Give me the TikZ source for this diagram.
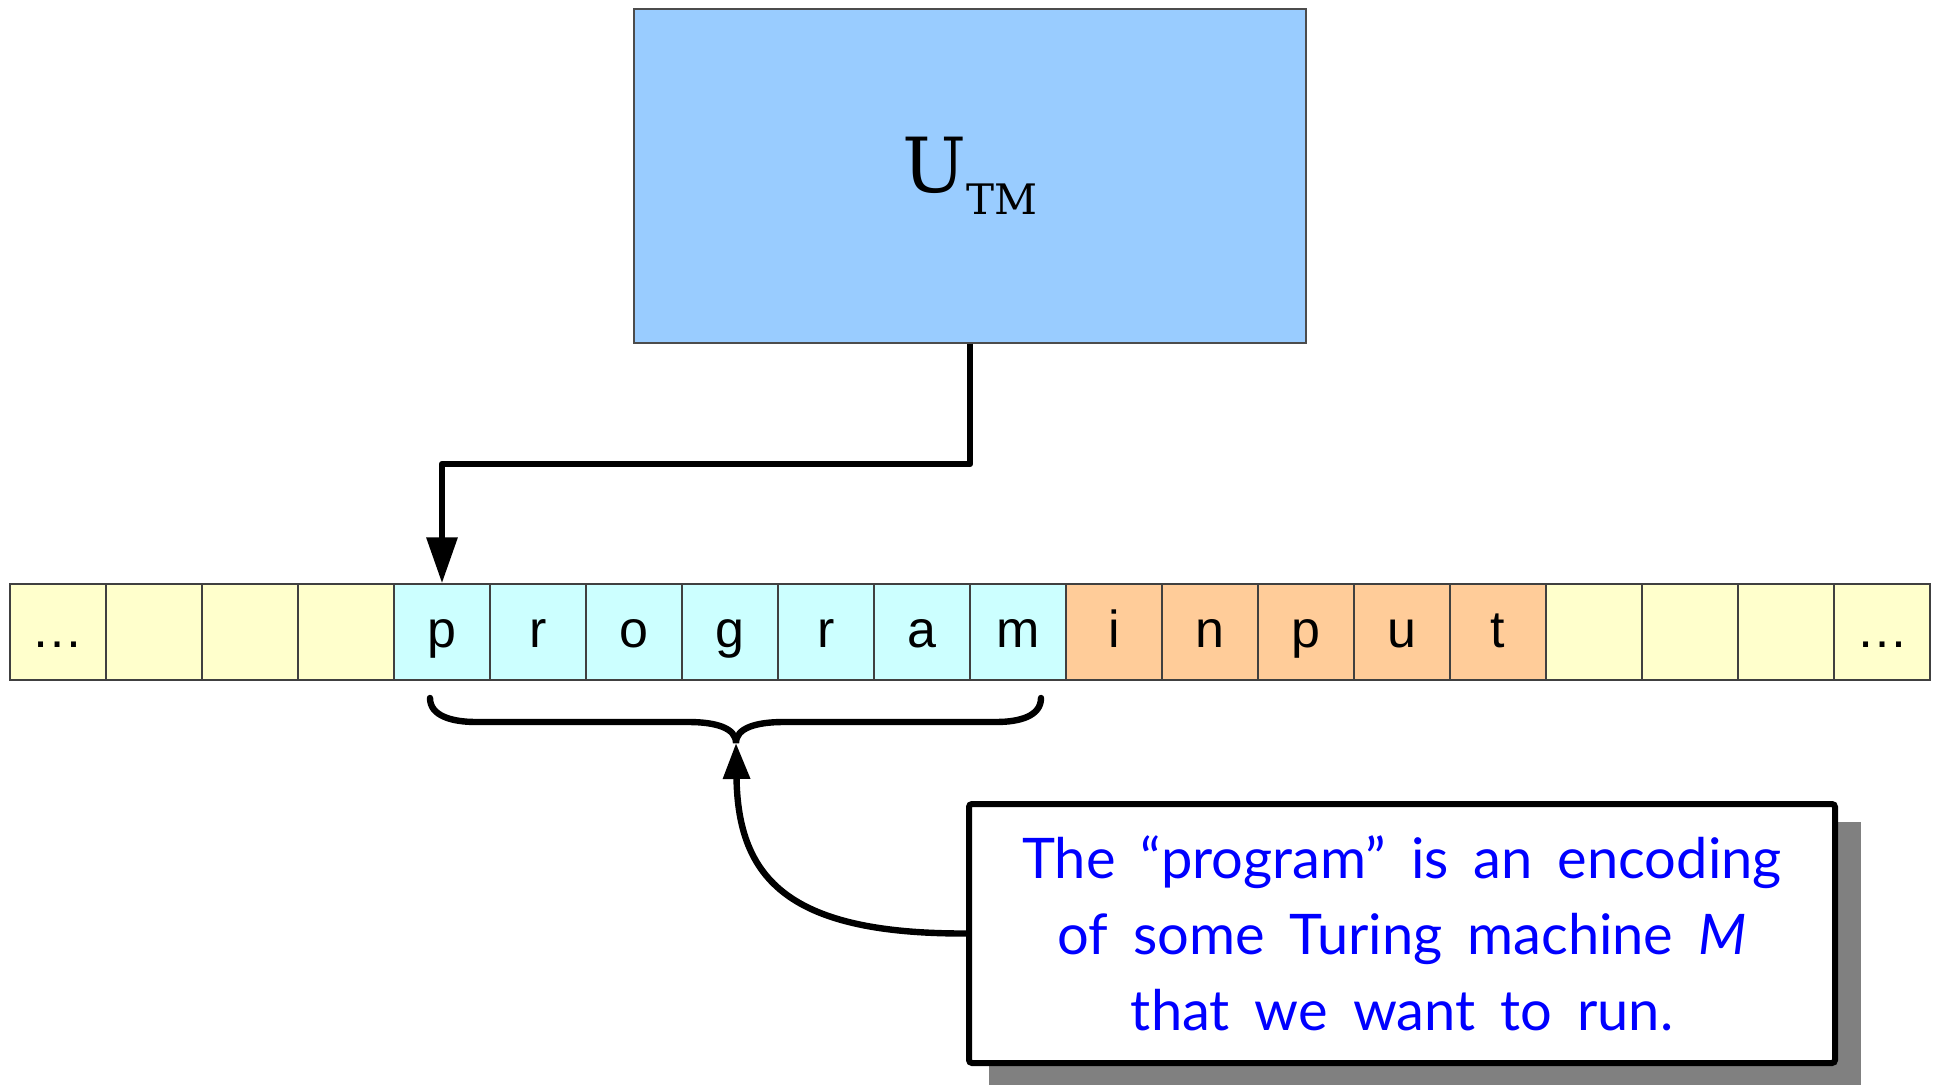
\documentclass[tikz,border=0pt]{standalone}
\usepackage{fontspec}
\setmainfont{Liberation Sans}
\newfontfamily\serifface{DejaVu Serif}
\newfontfamily\noteface{Lato}
\usetikzlibrary{arrows.meta}

\definecolor{blankcell}{HTML}{FFFFCC}
\definecolor{progcell}{HTML}{CCFFFF}
\definecolor{inputcell}{HTML}{FFCC99}
\definecolor{machine}{HTML}{99CCFF}
\definecolor{noteblue}{HTML}{0000FF}

\newcommand\widewords{\spaceskip=12.5pt plus 1pt\relax}

\begin{document}
\begin{tikzpicture}[x=0.5pt, y=-0.5pt,
    cell/.style={draw=black!75, line width=0.7pt, minimum width=48pt, minimum height=48pt,
      inner sep=0pt, text height=18pt, text depth=3pt, font=\fontsize{26}{26}\selectfont},
    link/.style={line width=3.2pt, line join=round},
  ]
  \useasboundingbox (0,0) rectangle (1939,1085);

  % the machine
  \node[draw=black!70, line width=0.6pt, fill=machine, minimum width=336pt, minimum height=167pt]
    (utm) at (970,176) {\serifface\fontsize{38}{38}\selectfont U\raisebox{-11pt}{\fontsize{21}{21}\selectfont TM}};

  % the tape
  \foreach \i/\sym/\col in {0/…/blankcell, 1//blankcell, 2//blankcell, 3//blankcell,
      4/p/progcell, 5/r/progcell, 6/o/progcell, 7/g/progcell, 8/r/progcell, 9/a/progcell, 10/m/progcell,
      11/i/inputcell, 12/n/inputcell, 13/p/inputcell, 14/u/inputcell, 15/t/inputcell,
      16//blankcell, 17//blankcell, 18//blankcell, 19/…/blankcell}
    \node[cell, fill=\col] (c\i) at ({58+96*\i},632) {\sym};

  % tape head
  \coordinate (bend) at (442,464);
  \draw[link, -{Triangle[length=23pt, width=15pt]}] (utm.south) |- (bend) -- (c4.north);

  % brace under the program
  \coordinate (bl) at (430,698);
  \coordinate (tip) at (736,743);
  \coordinate (br) at (1041,698);
  \draw[line width=3.2pt, line cap=round]
    (bl) .. controls (430,716) and (452,722) .. (476,722) -- (688,722)
         .. controls (716,722) and (736,728) .. (tip)
         .. controls (736,728) and (756,722) .. (784,722) -- (996,722)
         .. controls (1020,722) and (1041,716) .. (br);

  % the note and its shadow
  \fill[black!50] (989,822) rectangle (1861,1090);
  \node[draw, line width=3pt, fill=white, rounded corners=1.5pt, minimum width=433pt, minimum height=129.5pt,
    align=center, text=noteblue, font=\noteface\fontsize{28}{38}\selectfont\widewords]
    (note) at (1402,933.5) {The “program” is an encoding\\ of some Turing machine \textit{M}\\ that we want to run.};

  \draw[link, -{Triangle[length=18pt, width=13pt]}] (note.west) .. controls (790,934) and (738,880) .. (tip);
\end{tikzpicture}
\end{document}
